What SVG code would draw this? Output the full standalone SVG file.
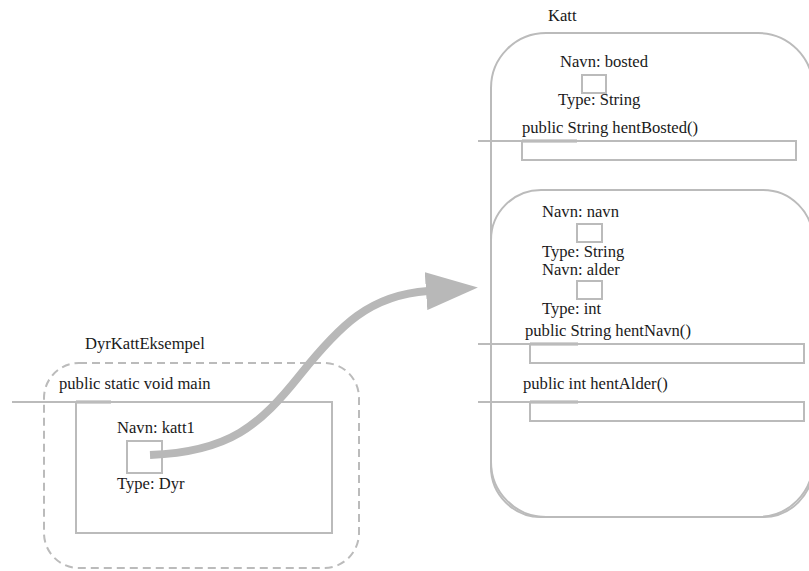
<svg xmlns="http://www.w3.org/2000/svg" width="809" height="571" viewBox="0 0 809 571">
<style>
text{font-family:"Liberation Serif","DejaVu Serif",serif;font-size:16.6px;fill:#1a1a1a}
.box{fill:none;stroke:#bbbbbb;stroke-width:2}
.ln{stroke:#bbbbbb;stroke-width:2}
.lnd{stroke:#aaaaaa;stroke-width:3}
.dash{fill:none;stroke:#bbbbbb;stroke-width:2;stroke-dasharray:8 5}
</style>
<defs>
<marker id="ah" viewBox="0 0 52 38" refX="2" refY="19" markerWidth="52" markerHeight="38" markerUnits="userSpaceOnUse" orient="auto">
<path d="M0,0 L52,19 L0,38 Z" fill="#b8b8b8"/>
</marker>
</defs>
<rect width="809" height="571" fill="#ffffff"/>
<g id="katt">
<text x="548" y="21">Katt</text>
<rect class="box" x="491" y="33" width="322" height="484" rx="55"/>
<text x="560" y="67">Navn: bosted</text>
<rect class="box" x="582" y="75" width="24" height="18"/>
<text x="558" y="105">Type: String</text>
<text x="522" y="133">public String hentBosted()</text>
<line class="ln" x1="478" y1="141" x2="522" y2="141"/>
<line class="lnd" x1="522" y1="141" x2="577" y2="141"/>
<rect class="box" x="522" y="141" width="274" height="19"/>
</g>
<g id="dyr">
<rect class="box" x="491" y="190" width="322" height="327" rx="50"/>
<text x="542" y="217">Navn: navn</text>
<rect class="box" x="577" y="224" width="25" height="18"/>
<text x="542" y="257">Type: String</text>
<text x="542" y="275">Navn: alder</text>
<rect class="box" x="577" y="281" width="25" height="18"/>
<text x="542" y="314">Type: int</text>
<text x="525" y="336">public String hentNavn()</text>
<line class="ln" x1="478" y1="344" x2="530" y2="344"/>
<line class="lnd" x1="530" y1="344" x2="578" y2="344"/>
<rect class="box" x="530" y="344" width="274" height="19"/>
<text x="523" y="389">public int hentAlder()</text>
<line class="ln" x1="478" y1="402" x2="530" y2="402"/>
<line class="lnd" x1="530" y1="402" x2="578" y2="402"/>
<rect class="box" x="530" y="402" width="274" height="19"/>
</g>
<g id="dyrKattEksempel">
<text x="85" y="349">DyrKattEksempel</text>
<rect class="dash" x="44" y="363" width="315" height="205" rx="35"/>
<text x="59" y="389">public static void main</text>
<line class="ln" x1="12" y1="402" x2="76" y2="402"/>
<line class="lnd" x1="76" y1="402" x2="111" y2="402"/>
<rect class="box" x="76" y="402" width="256" height="131"/>
<text x="117" y="433">Navn: katt1</text>
<rect class="box" x="127" y="441" width="35" height="32"/>
<text x="117" y="489">Type: Dyr</text>
</g>
<g id="connectors">
<path d="M150,455 C230,452 260,425 300,375 C340,325 370,295 428,291" fill="none" stroke="#b8b8b8" stroke-width="8" marker-end="url(#ah)"/>
</g>
</svg>
